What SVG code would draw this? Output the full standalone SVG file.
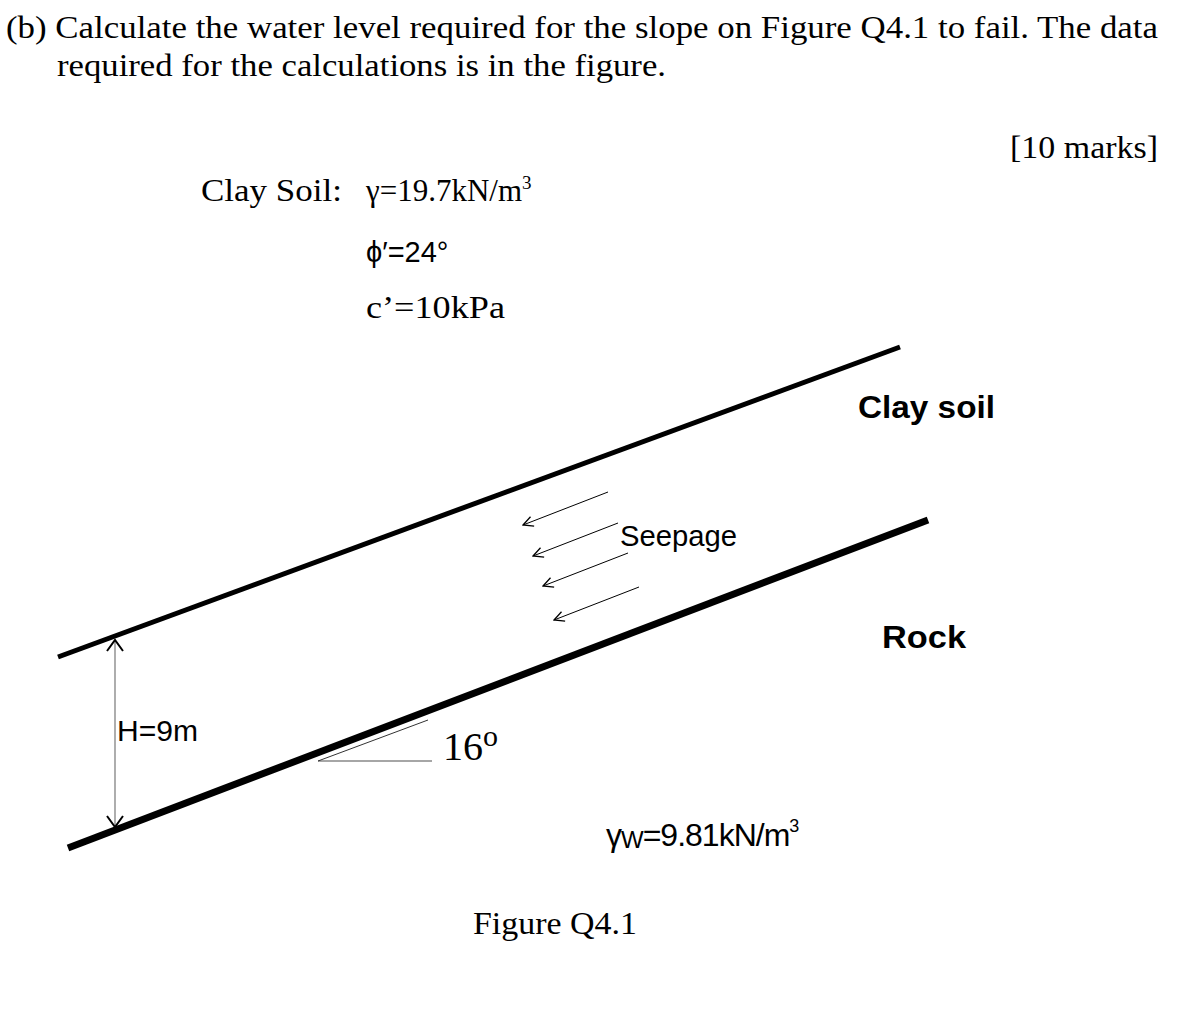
<svg xmlns="http://www.w3.org/2000/svg" width="1200" height="1024" viewBox="0 0 1200 1024">
<style>
.serif{font-family:"Liberation Serif","Times New Roman",serif;fill:#000}
.sans{font-family:"Liberation Sans",Arial,sans-serif;fill:#000}
.thin{stroke:#000;stroke-width:1;fill:none}
</style>
<defs>
<marker id="ah" markerWidth="12" markerHeight="12" refX="11" refY="6" orient="auto" markerUnits="userSpaceOnUse">
<path d="M1,1 L11,6 L1,11" fill="none" stroke="#000" stroke-width="1.3"/>
</marker>
<marker id="dh" markerWidth="14" markerHeight="20" refX="12" refY="10" orient="auto-start-reverse" markerUnits="userSpaceOnUse">
<path d="M1,2 L12,10 L1,18" fill="none" stroke="#000" stroke-width="2"/>
</marker>
</defs>
<rect width="1200" height="1024" fill="#fff"/>
<text class="serif" x="6" y="38" font-size="31" textLength="1152" lengthAdjust="spacingAndGlyphs">(b) Calculate the water level required for the slope on Figure Q4.1 to fail. The data</text>
<text class="serif" x="57" y="76" font-size="31" textLength="609" lengthAdjust="spacingAndGlyphs">required for the calculations is in the figure.</text>
<text class="serif" x="1010" y="158" font-size="31" textLength="148" lengthAdjust="spacingAndGlyphs">[10 marks]</text>
<text class="serif" x="201" y="201" font-size="31" textLength="141" lengthAdjust="spacingAndGlyphs">Clay Soil:</text>
<text class="serif" x="366" y="201" font-size="31">γ=19.7kN/m<tspan dy="-12" font-size="19">3</tspan></text>
<text class="sans" x="366" y="262" font-size="29">ϕ′=24°</text>
<text class="serif" x="366" y="318" font-size="31" textLength="139" lengthAdjust="spacingAndGlyphs">c’=10kPa</text>

<g id="surface"><line x1="58" y1="657" x2="900" y2="347" stroke="#000" stroke-width="5"/></g>
<g id="rock"><line x1="68" y1="848" x2="928" y2="520" stroke="#000" stroke-width="7"/></g>
<text class="sans" x="858" y="418" font-size="32" font-weight="bold" textLength="137" lengthAdjust="spacingAndGlyphs">Clay soil</text>
<text class="sans" x="882" y="648" font-size="32" font-weight="bold" textLength="84" lengthAdjust="spacingAndGlyphs">Rock</text>

<g id="connectors">
<line x1="115" y1="640" x2="115" y2="827" stroke="#777" stroke-width="1.2" marker-start="url(#dh)" marker-end="url(#dh)"/>
<line class="thin" x1="608" y1="492" x2="523" y2="525" marker-end="url(#ah)"/>
<line class="thin" x1="618" y1="523" x2="533" y2="556" marker-end="url(#ah)"/>
<line class="thin" x1="628" y1="553" x2="543" y2="586" marker-end="url(#ah)"/>
<line class="thin" x1="639" y1="587" x2="554" y2="620" marker-end="url(#ah)"/>
<line x1="318" y1="761" x2="432" y2="761" stroke="#888" stroke-width="1.5"/>
<line x1="318" y1="761" x2="428" y2="720" stroke="#333" stroke-width="1"/>
</g>
<text class="sans" x="117" y="741" font-size="30" textLength="81" lengthAdjust="spacingAndGlyphs">H=9m</text>
<text class="serif" x="443" y="760" font-size="40">16<tspan dy="-14" font-size="30">o</tspan></text>
<text class="sans" x="620" y="546" font-size="29" textLength="117" lengthAdjust="spacingAndGlyphs">Seepage</text>
<text class="sans" x="606" y="846" font-size="32" letter-spacing="-1">γ<tspan font-size="24" dy="2">W</tspan><tspan dy="-2">=9.81kN/m</tspan><tspan dy="-14" font-size="18">3</tspan></text>
<text class="serif" x="473" y="934" font-size="31" textLength="164" lengthAdjust="spacingAndGlyphs">Figure Q4.1</text>
</svg>
